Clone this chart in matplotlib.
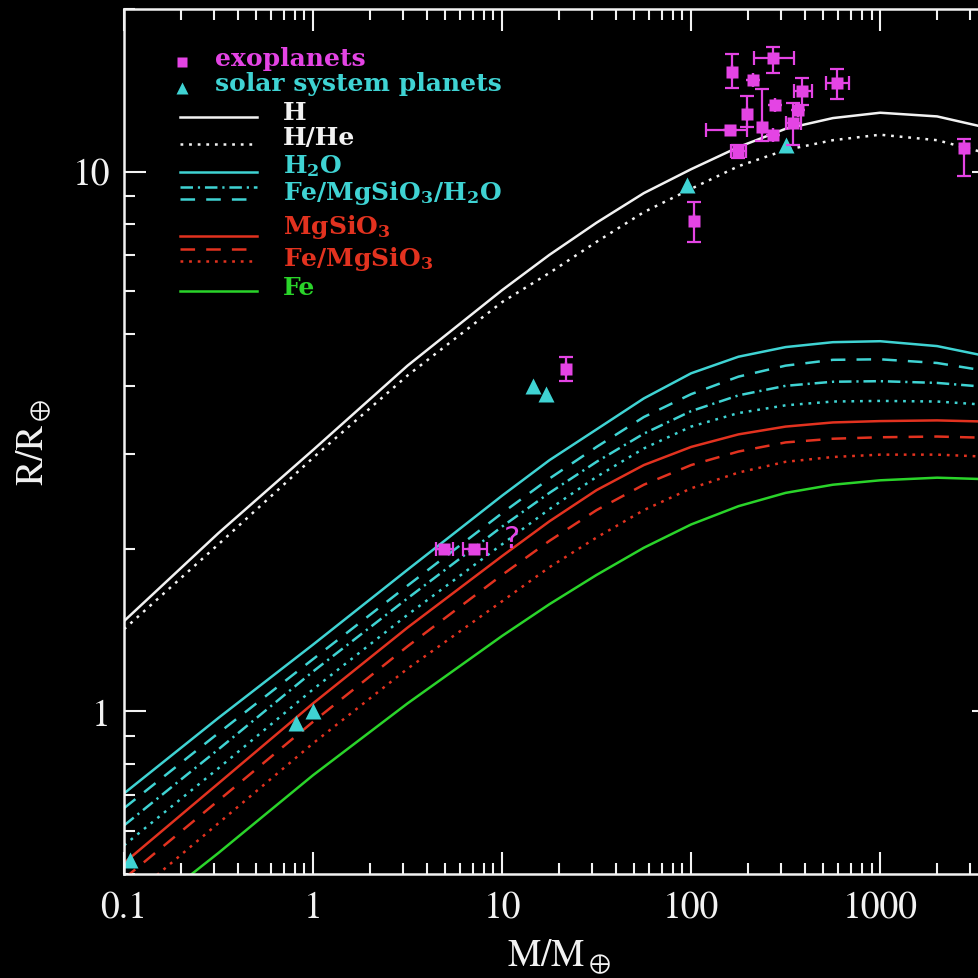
import numpy as np
import matplotlib.pyplot as plt
from matplotlib.ticker import FixedLocator, FixedFormatter, LogLocator, NullFormatter

plt.rcParams['font.family'] = 'STIXGeneral'
plt.rcParams['mathtext.fontset'] = 'stix'
plt.rcParams['lines.scale_dashes'] = False

# ============================================================
# MODEL CURVES  (mass in M_earth, radius in R_earth)
# ============================================================
mass = [0.1, 0.316, 1, 3.16, 10, 17.8, 31.6, 56.2, 100, 178, 316, 562, 1000, 2000, 4000]

r_H = [1.47, 2.14, 3.05, 4.37, 6.03, 7.01, 8.04, 9.12, 10.1, 11.1, 12.0, 12.56, 12.85, 12.65, 11.97]
r_HHe = [1.42, 2.04, 2.95, 4.19, 5.73, 6.49, 7.41, 8.41, 9.29, 10.23, 10.96, 11.43, 11.7, 11.43, 10.72]
r_H2O = [0.705, 0.973, 1.33, 1.83, 2.51, 2.92, 3.33, 3.80, 4.23, 4.54, 4.73, 4.83, 4.85, 4.75, 4.52]
r_fms_h2o_dash = [0.662, 0.912, 1.25, 1.71, 2.33, 2.70, 3.09, 3.51, 3.87, 4.17, 4.37, 4.48, 4.49, 4.42, 4.25]
r_fms_h2o_dashdot = [0.615, 0.851, 1.186, 1.62, 2.20, 2.54, 2.90, 3.27, 3.60, 3.85, 4.01, 4.08, 4.09, 4.06, 3.98]
r_fms_h2o_dot = [0.565, 0.785, 1.099, 1.51, 2.04, 2.37, 2.72, 3.07, 3.37, 3.57, 3.69, 3.75, 3.76, 3.75, 3.69]
r_MgSiO3 = [0.524, 0.736, 1.035, 1.43, 1.94, 2.25, 2.57, 2.86, 3.09, 3.26, 3.37, 3.43, 3.45, 3.46, 3.44]
r_fe_ms_dash = [0.49, 0.684, 0.957, 1.32, 1.79, 2.07, 2.36, 2.63, 2.86, 3.03, 3.15, 3.20, 3.22, 3.23, 3.21]
r_fe_ms_dot = [0.442, 0.621, 0.873, 1.20, 1.60, 1.85, 2.10, 2.36, 2.59, 2.77, 2.90, 2.96, 2.99, 2.99, 2.96]
r_Fe = [0.398, 0.547, 0.762, 1.035, 1.38, 1.58, 1.79, 2.01, 2.22, 2.40, 2.54, 2.63, 2.68, 2.71, 2.69]

# ============================================================
# SOLAR SYSTEM PLANETS
# ============================================================
ss_mass = [0.107, 0.815, 1.0, 14.5, 17.1, 95.2, 317.8]
ss_radius = [0.53, 0.95, 1.0, 4.0, 3.88, 9.45, 11.2]

# ============================================================
# EXOPLANETS (value, lower err, upper err)
# ============================================================
ex_mass = [4.95, 7.1, 21.8, 103, 2760, 165, 272, 213, 591, 386, 278, 198, 161, 238, 272, 347, 368, 177]
ex_m_lo = [0.5, 0.9, 0, 0, 0, 0, 58, 0, 71, 36, 0, 0, 41, 0, 0, 30, 0, 15]
ex_m_hi = [0.55, 1.25, 0, 0, 0, 0, 78, 0, 89, 49, 0, 0, 36, 0, 0, 35, 0, 18]
ex_radius = [2.0, 2.0, 4.3, 8.1, 11.07, 15.3, 16.2, 14.8, 14.6, 14.1, 13.3, 12.8, 11.96, 12.1, 11.7, 12.3, 13.0, 10.9]
ex_r_lo = [0, 0, 0.21, 0.7, 1.24, 1.0, 1.0, 0, 1.0, 0.8, 0, 0.7, 0, 0.7, 0, 1.1, 0, 0.3]
ex_r_hi = [0, 0, 0.23, 0.7, 0.4, 1.2, 0.8, 0, 0.9, 0.8, 0, 1.0, 0, 2.1, 0, 1.1, 0, 0.3]

unknown_mass, unknown_radius = 11.2, 2.09

# ============================================================
# STYLES
# ============================================================
WHITE = '#f2f2f2'
CYAN = '#3fd3d3'
RED = '#e2321f'
GREEN = '#2ad42a'
MAGENTA = '#e444e4'
LW = 1.8
DASH = (0, (10.5, 8.0))
DOT = (0, (2.0, 4.2))
DASHDOT = (0, (9.0, 3.5, 1.6, 3.5))

fig = plt.figure(figsize=(9.79, 9.79), dpi=100, facecolor='black')
ax = fig.add_axes([124/979, 104/979, 870/979, 865/979])
ax.set_facecolor('black')

curves = [
    (r_H, WHITE, '-'),
    (r_HHe, WHITE, DOT),
    (r_H2O, CYAN, '-'),
    (r_fms_h2o_dash, CYAN, DASH),
    (r_fms_h2o_dashdot, CYAN, DASHDOT),
    (r_fms_h2o_dot, CYAN, DOT),
    (r_MgSiO3, RED, '-'),
    (r_fe_ms_dash, RED, DASH),
    (r_fe_ms_dot, RED, DOT),
    (r_Fe, GREEN, '-'),
]
for r, c, ls in curves:
    ax.plot(mass, r, color=c, linestyle=ls, lw=LW)

ax.plot(ss_mass, ss_radius, '^', color=CYAN, ms=11, mec='none')

ax.errorbar(ex_mass, ex_radius, xerr=[ex_m_lo, ex_m_hi], yerr=[ex_r_lo, ex_r_hi],
            fmt='s', color=MAGENTA, ms=9, mec='none', elinewidth=1.6, capsize=5, capthick=1.6)
ax.text(unknown_mass, unknown_radius, '?', color=MAGENTA, fontsize=22,
        family='DejaVu Sans', ha='center', va='center')

# ============================================================
# AXES
# ============================================================
ax.set_xscale('log')
ax.set_yscale('log')
ax.set_xlim(0.1, 4000)
ax.set_ylim(0.5, 20)

ax.xaxis.set_major_locator(FixedLocator([0.1, 1, 10, 100, 1000]))
ax.xaxis.set_major_formatter(FixedFormatter(['0.1', '1', '10', '100', '1000']))
ax.yaxis.set_major_locator(FixedLocator([1, 10]))
ax.yaxis.set_major_formatter(FixedFormatter(['1', '10']))
for a in (ax.xaxis, ax.yaxis):
    a.set_minor_locator(LogLocator(base=10, subs=np.arange(2, 10)))
    a.set_minor_formatter(NullFormatter())

ax.tick_params(which='both', direction='in', top=True, right=True, colors=WHITE,
               labelsize=27)
ax.tick_params(which='major', length=16, width=1.5)
ax.tick_params(which='minor', length=8, width=1.5)
ax.tick_params(axis='x', pad=12)
ax.tick_params(axis='y', pad=10)
for s in ax.spines.values():
    s.set_color(WHITE)
    s.set_linewidth(1.8)

ax.set_xlabel(r'M/M$_\oplus$', color=WHITE, fontsize=27, labelpad=8)
ax.set_ylabel(r'R/R$_\oplus$', color=WHITE, fontsize=27, labelpad=14)

# ============================================================
# LEGEND (drawn by hand, axes coordinates)
# ============================================================
T = ax.transAxes
lx0, lx1, tx = 0.0644, 0.1529, 0.1828
kw = dict(transform=T, family='DejaVu Serif', math_fontfamily='dejavuserif',
          fontsize=18, fontweight='bold', va='center', ha='left')

ax.plot([0.0667], [0.9387], 's', color=MAGENTA, ms=7, mec='none', transform=T)
ax.text(0.1046, 0.9430, 'exoplanets', color=MAGENTA, **kw)
ax.plot([0.0667], [0.9090], '^', color=CYAN, ms=9, mec='none', transform=T)
ax.text(0.1046, 0.9150, 'solar system planets', color=CYAN, **kw)

legend_lines = [
    (0.8751, WHITE, '-'),
    (0.8439, WHITE, DOT),
    (0.8116, CYAN, '-'),
    (0.7942, CYAN, DASHDOT),
    (0.7803, CYAN, DASH),
    (0.7376, RED, '-'),
    (0.7225, RED, DASH),
    (0.7087, RED, DOT),
    (0.6740, GREEN, '-'),
]
for y, c, ls in legend_lines:
    ax.plot([lx0, lx1], [y, y], color=c, linestyle=ls, lw=LW, transform=T)

legend_texts = [
    (0.8810, 'H', WHITE),
    (0.8520, 'H/He', WHITE),
    (0.8200, r'H$_\mathbf{2}$O', CYAN),
    (0.7890, r'Fe/MgSiO$_\mathbf{3}$/H$_\mathbf{2}$O', CYAN),
    (0.7490, r'MgSiO$_\mathbf{3}$', RED),
    (0.7120, r'Fe/MgSiO$_\mathbf{3}$', RED),
    (0.6790, 'Fe', GREEN),
]
for y, s, c in legend_texts:
    ax.text(tx, y, s, color=c, **kw)

fig.savefig('out.png', dpi=100, facecolor='black')
